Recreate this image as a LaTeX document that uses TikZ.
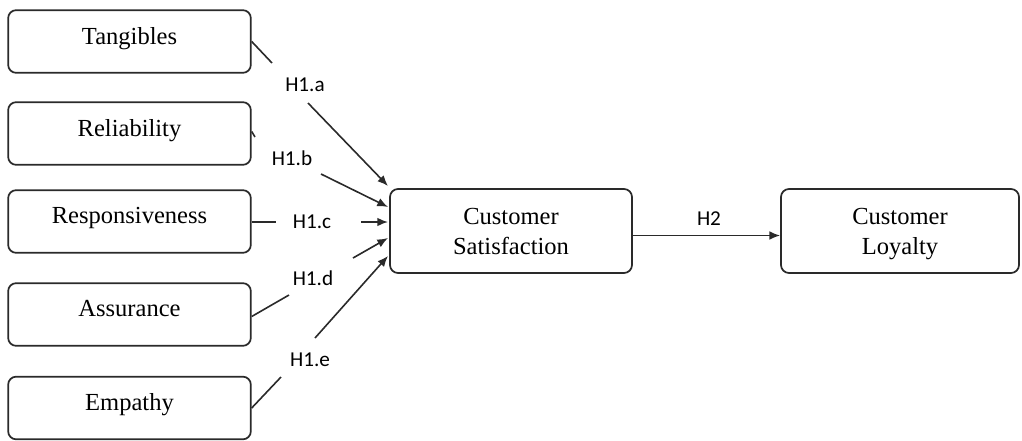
\documentclass[tikz,border=0pt]{standalone}
\usepackage{fontspec}
\setmainfont{Liberation Serif}
\newfontfamily\lblfont{Carlito}
\usetikzlibrary{arrows.meta}
\definecolor{edge}{HTML}{2A2A2A}
\begin{document}
\begin{tikzpicture}[x=0.75pt,y=-0.75pt,
  box/.style={draw=edge, line width=1.3pt, rounded corners=6pt, inner sep=0pt,
    minimum width=182pt, minimum height=47pt, align=center,
    font=\fontsize{18.4}{22.5}\selectfont, text depth=9pt},
  bigbox/.style={box, minimum height=63pt, text depth=0pt},
  conn/.style={line width=1.2pt, draw=edge},
  arr/.style={conn, -{Latex[length=8pt,width=6.5pt]}},
  hlbl/.style={inner sep=0pt, font=\lblfont\fontsize{15.9}{18}\selectfont}]
\useasboundingbox (0,0) rectangle (1022,440);
\clip (0,0) rectangle (1022,440);
% boxes
\node[box] (tan) at (129.5,41.5) {Tangibles};
\node[box] (rel) at (129.5,133.5) {Reliability};
\node[box] (res) at (129.5,221.5) {Responsiveness};
\node[box] (ass) at (129.5,314.5) {Assurance};
\node[box] (emp) at (129.5,408) {Empathy};
\node[bigbox, minimum width=181.5pt] (sat) at (511,231) {Customer\\Satisfaction};
\node[bigbox, minimum width=178.5pt] (loy) at (900,231) {Customer\\Loyalty};
% labels
\node[hlbl] (la) at (305,85) {H1.a};
\node[hlbl] (lb) at (292,158) {H1.b};
\node[hlbl] (lc) at (312,222) {H1.c};
\node[hlbl] (ld) at (313,278) {H1.d};
\node[hlbl] (le) at (310,360) {H1.e};
\node[hlbl] (lh) at (709,219) {H2};
% free ends
\coordinate (a1) at (272,63);
\coordinate (a2) at (308,103);
\coordinate (a3) at (388,186);
\coordinate (b1) at (255,137);
\coordinate (b2) at (321,174);
\coordinate (b3) at (388,207);
\coordinate (c1) at (276,222);
\coordinate (c2) at (361,222);
\coordinate (c3) at (388,222);
\coordinate (d1) at (289,295);
\coordinate (d2) at (353,258);
\coordinate (d3) at (388,238);
\coordinate (e1) at (281,377);
\coordinate (e2) at (315,338);
\coordinate (e3) at (388,256);
% connectors
\draw[conn] (tan.east) -- (a1);
\draw[arr] (a2) -- (a3);
\draw[conn] (rel.east) ++(0,-2) -- (b1);
\draw[arr] (b2) -- (b3);
\draw[conn] (res.east |- c1) -- (c1);
\draw[arr] (c2) -- (c3);
\draw[conn] (ass.east) ++(0,2) -- (d1);
\draw[arr] (d2) -- (d3);
\draw[conn] (emp.east) -- (e1);
\draw[arr] (e2) -- (e3);
\draw[arr] (sat.east) ++(0,4.5) -- (loy.west |- 0,235.5);
\end{tikzpicture}
\end{document}
